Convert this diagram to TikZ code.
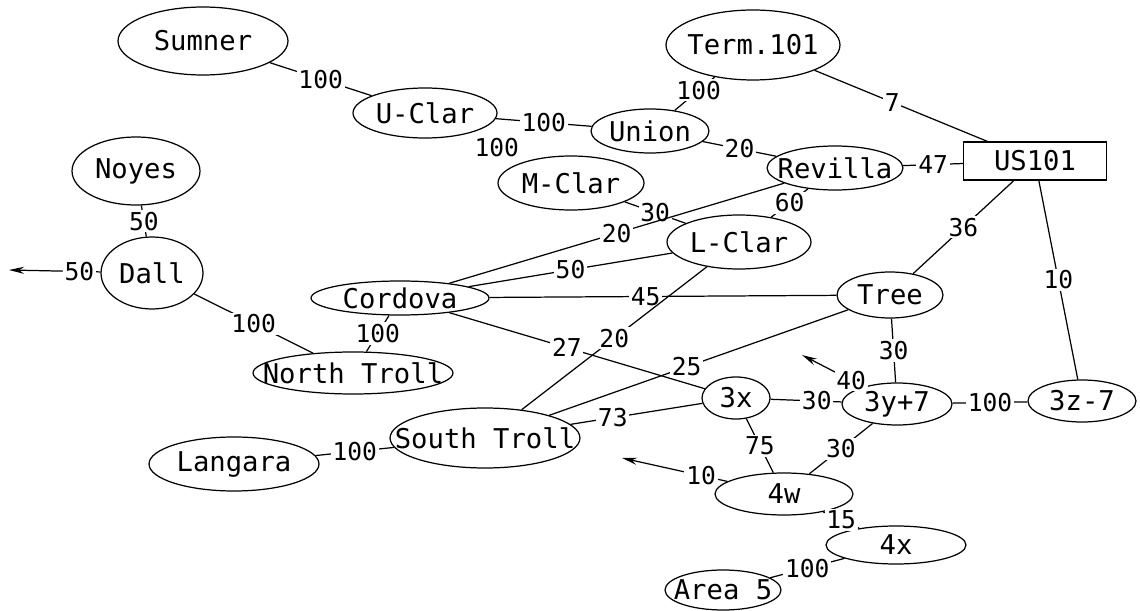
\documentclass[tikz,border=0pt]{standalone}
\usepackage{fontspec}
\setmonofont{DejaVu Sans Mono}
\usepackage{tikz}
\usetikzlibrary{shapes.geometric}
\usetikzlibrary{arrows.meta}

\tikzset{
	stopnode/.style n args={3}{ellipse,draw,minimum width=#1,minimum height=#2,inner sep=0pt,label={center:#3}},
	boxnode/.style n args={3}{rectangle,draw,minimum width=#1,minimum height=#2,inner sep=0pt,label={center:#3}},
	wt/.style={fill=white,inner sep=1pt,font=\ttfamily\fontsize{14}{16}\selectfont},
	leave/.style={-{Stealth[length=3mm,width=1.4mm]}},
}

\begin{document}
\begin{tikzpicture}[x=0.02cm,y=-0.02cm,line width=.7pt,font=\ttfamily\fontsize{15.5}{18}\selectfont]
	\useasboundingbox (0,0) rectangle (1140,611);
	\node[stopnode={3.4cm}{1.36cm}{Sumner}] (sumner) at (203,41) {};
	\node[stopnode={2.88cm}{1cm}{U-Clar}] (uclar) at (425,113) {};
	\node[stopnode={2.36cm}{.88cm}{Union}] (union) at (650,131) {};
	\node[stopnode={3.48cm}{1.4cm}{Term.101}] (term) at (753,45) {};
	\node[stopnode={2.92cm}{1.08cm}{M-Clar}] (mclar) at (571,183) {};
	\node[stopnode={2.72cm}{.88cm}{Revilla}] (revilla) at (835,168) {};
	\node[boxnode={2.86cm}{.76cm}{US101}] (us) at (1035,161) {};
	\node[stopnode={2.88cm}{1.08cm}{L-Clar}] (lclar) at (739,242) {};
	\node[stopnode={2.12cm}{.92cm}{Tree}] (tree) at (890,295) {};
	\node[stopnode={2.56cm}{1.36cm}{Noyes}] (noyes) at (136,171) {};
	\node[stopnode={2.04cm}{1.44cm}{Dall}] (dall) at (152,273) {};
	\node[stopnode={3.56cm}{.68cm}{Cordova}] (cordova) at (400,298) {};
	\node[stopnode={4cm}{.84cm}{North Troll}] (ntroll) at (353,373) {};
	\node[stopnode={3.4cm}{1.08cm}{Langara}] (langara) at (234,464) {};
	\node[stopnode={3.8cm}{1.2cm}{South Troll}] (stroll) at (485,438) {};
	\node[stopnode={1.36cm}{.84cm}{3x}] (x3) at (736,398) {};
	\node[stopnode={2.2cm}{.84cm}{3y+7}] (y3) at (897,404) {};
	\node[stopnode={2.16cm}{.84cm}{3z-7}] (z3) at (1082,401) {};
	\node[stopnode={2.76cm}{.84cm}{4w}] (w4) at (784,494) {};
	\node[stopnode={2.8cm}{.76cm}{4x}] (x4) at (896,545) {};
	\node[stopnode={2.32cm}{.8cm}{Area 5}] (area) at (723,590) {};
	\coordinate (dallout) at (9,270);
	\coordinate (yout) at (802,355);
	\coordinate (wout) at (622,458);

	\draw (sumner) -- node[wt]{100} (uclar);
	\draw (uclar) -- node[wt]{100} (union);
	\path (uclar) -- node[wt]{100} (mclar);
	\draw (union) -- node[wt,pos=.6]{100} (term);
	\draw (union) -- node[wt]{20} (revilla);
	\draw (revilla) -- node[wt]{47} (us);
	\draw (term) -- node[wt,pos=.45]{7} (us);
	\draw (mclar) -- node[wt]{30} (lclar);
	\draw (revilla) -- node[wt]{60} (lclar);
	\draw (cordova) -- node[wt]{20} (revilla);
	\draw (cordova) -- node[wt]{50} (lclar);
	\draw (cordova) -- node[wt,pos=.45]{45} (tree);
	\draw (lclar) -- node[wt]{20} (stroll);
	\draw (cordova) -- node[wt,pos=.46]{27} (x3);
	\draw (tree) -- node[wt,pos=.54]{25} (stroll);
	\draw (stroll) -- node[wt,pos=.32]{73} (x3);
	\draw (langara) -- node[wt]{100} (stroll);
	\draw (cordova) -- node[wt]{100} (ntroll);
	\draw (dall) -- node[wt]{100} (ntroll);
	\draw (noyes) -- node[wt]{50} (dall);
	\draw[leave] (dall) -- node[wt,pos=.23]{50} (dallout);
	\draw (us) -- node[wt]{36} (tree);
	\draw (us) -- node[wt]{10} (z3);
	\draw (tree) -- node[wt]{30} (y3);
	\draw (x3) -- node[wt,pos=.65]{30} (y3);
	\draw (y3) -- node[wt]{100} (z3);
	\draw[leave] (y3) -- node[wt,pos=.2]{40} (yout);
	\draw (x3) -- node[wt]{75} (w4);
	\draw (y3) -- node[wt]{30} (w4);
	\draw[leave] (w4) -- node[wt,pos=.25]{10} (wout);
	\draw (w4) -- node[wt]{15} (x4);
	\draw (x4) -- node[wt]{100} (area);
\end{tikzpicture}
\end{document}
